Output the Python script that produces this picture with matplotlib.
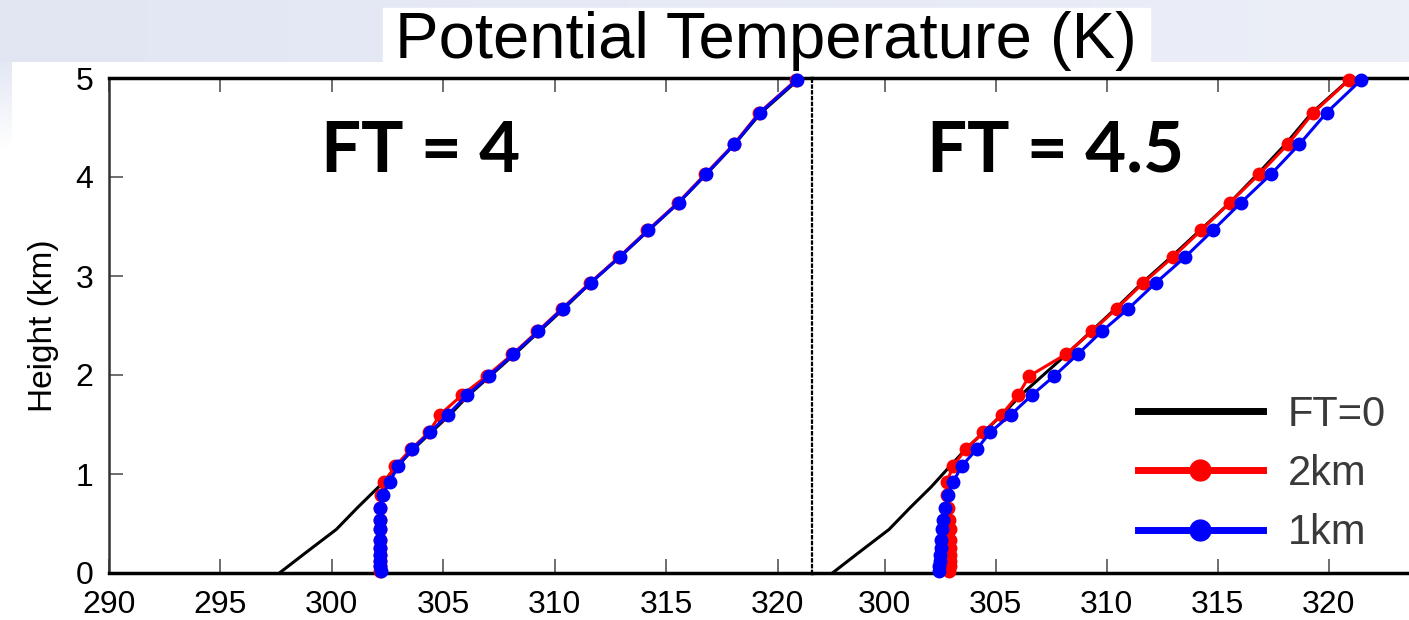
import numpy as np
import matplotlib.pyplot as plt
from matplotlib.lines import Line2D
from matplotlib.patches import Rectangle
from matplotlib.colors import LinearSegmentedColormap

plt.rcParams['font.family'] = ['Liberation Sans', 'DejaVu Sans']

# model levels (km) of the sensitivity runs
z = [0.02, 0.07, 0.12, 0.18, 0.25, 0.33, 0.44, 0.54, 0.66, 0.79, 0.92, 1.08, 1.25, 1.42,
     1.60, 1.80, 1.99, 2.21, 2.44, 2.67, 2.93, 3.19, 3.46, 3.74, 4.03, 4.33, 4.65, 4.98]

# control run FT=0
z_ctl = [0.0, 0.2, 0.44, 0.66, 0.87, 1.08, 1.25, 1.42, 1.60, 1.80, 1.99, 2.21, 2.44, 2.67,
         2.93, 3.19, 3.46, 3.74, 4.03, 4.33, 4.65, 4.98]
th_ctl = [297.65, 298.8, 300.2, 301.15, 302.1, 302.95, 303.65, 304.45, 305.3, 306.15, 307.1,
          308.2, 309.3, 310.4, 311.6, 312.9, 314.2, 315.55, 316.8, 318.05, 319.25, 320.9]

# FT = 4
th_2km_a = [302.18, 302.17, 302.17, 302.16, 302.16, 302.16, 302.16, 302.16, 302.17, 302.2,
            302.35, 302.85, 303.55, 304.35, 304.85, 305.85, 306.95, 308.1, 309.22, 310.32,
            311.57, 312.87, 314.15, 315.52, 316.75, 318.02, 319.17, 320.82]
th_1km_a = [302.19, 302.18, 302.17, 302.17, 302.16, 302.16, 302.16, 302.17, 302.18, 302.28,
            302.6, 302.97, 303.6, 304.4, 305.2, 306.08, 307.05, 308.14, 309.26, 310.35,
            311.6, 312.9, 314.18, 315.55, 316.78, 318.05, 319.2, 320.85]

# FT = 4.5
th_2km_b = [302.92, 302.93, 302.93, 302.93, 302.93, 302.93, 302.93, 302.92, 302.87, 302.8,
            302.8, 303.09, 303.65, 304.45, 305.27, 306.02, 306.52, 308.17, 309.33, 310.45,
            311.65, 312.98, 314.25, 315.55, 316.88, 318.16, 319.31, 320.92]
th_1km_b = [302.45, 302.46, 302.48, 302.5, 302.53, 302.56, 302.6, 302.64, 302.72, 302.87,
            303.09, 303.47, 304.15, 304.75, 305.69, 306.65, 307.64, 308.7, 309.78, 310.98,
            312.21, 313.53, 314.78, 316.05, 317.41, 318.68, 319.91, 321.46]

panels = [('FT = 4', 304.0, th_2km_a, th_1km_a), ('FT = 4.5', 307.7, th_2km_b, th_1km_b)]

fig = plt.figure(figsize=(14.09, 6.2), dpi=100)

# slide background: pale band on top, fading strip down the left edge
band = LinearSegmentedColormap.from_list('band', ['#e2e6f3', '#eceff8'])
bg = fig.add_axes([0, 1 - 62 / 620, 1, 62 / 620], zorder=-2)
bg.imshow(np.linspace(0, 1, 200)[None, :], aspect='auto', cmap=band, extent=(0, 1, 0, 1))
bg.axis('off')
fade = LinearSegmentedColormap.from_list('fade', ['white', '#e4e8f4'])
bg2 = fig.add_axes([0, 1 - 150 / 620, 12 / 1409, 88 / 620], zorder=-2)
bg2.imshow(np.linspace(0, 1, 50)[:, None], aspect='auto', cmap=fade, origin='lower',
           extent=(0, 1, 0, 1))
bg2.axis('off')

fig.patches.append(Rectangle((383 / 1409, 1 - 62 / 620), 767 / 1409, 54 / 620,
                             transform=fig.transFigure, color='white', zorder=1))
fig.text(766 / 1409, 1 - 58 / 620, 'Potential Temperature (K)', ha='center', va='baseline',
         fontsize=47, color='black', zorder=2)

ax1 = fig.add_axes([108.8 / 1409, 47 / 620, 703.2 / 1409, 495 / 620])
ax2 = fig.add_axes([812 / 1409, 47 / 620, 597 / 1409, 495 / 620])
ax1.set_xlim(290, 321.53)
ax2.set_xlim(296.73, 323.62)

for ax, (name, xname, th2, th1) in zip([ax1, ax2], panels):
    ax.plot(th_ctl, z_ctl, color='black', lw=2.2, zorder=3)
    ax.plot(th2, z, color='red', lw=2.2, marker='o', ms=9, zorder=4, clip_on=False)
    ax.plot(th1, z, color='blue', lw=2.2, marker='o', ms=9, zorder=5, clip_on=False)
    ax.set_ylim(0, 5)
    ax.set_xticks(range(290, 325, 5) if ax is ax1 else range(300, 325, 5))
    ax.tick_params(axis='x', direction='in', top=True, length=10, width=1.2, color='#555555',
                   labelsize=23, pad=12)
    ax.tick_params(axis='y', direction='in', length=10, width=1.2, color='#555555',
                   labelsize=23, pad=11)
    ax.spines['top'].set_linewidth(2.5)
    ax.spines['bottom'].set_linewidth(2.5)
    ax.spines['right'].set_visible(False)
    ax.text(xname, 4.26, name, ha='center', va='center', fontsize=51, fontweight='bold',
            family='Lato', zorder=6)

ax1.set_yticks(range(0, 6))
ax1.spines['left'].set_linewidth(1.8)
ax1.spines['left'].set_color('#333333')
ax1.set_ylabel('Height (km)', fontsize=24, labelpad=12)
ax2.set_yticks([])
ax2.spines['left'].set_linestyle((0, (1, 1.6)))
ax2.spines['left'].set_linewidth(1.6)

handles = [Line2D([], [], color='black', lw=5),
           Line2D([], [], color='red', lw=5, marker='o', ms=15),
           Line2D([], [], color='blue', lw=5, marker='o', ms=15)]
leg = ax2.legend(handles, ['FT=0', '2km', '1km'], loc='upper left', bbox_to_anchor=(0.546, 0.36),
                 frameon=False, fontsize=30, handlelength=3.0, handletextpad=0.6,
                 labelspacing=0.46, borderpad=0, borderaxespad=0)
for t in leg.get_texts():
    t.set_color('#3a3a3a')

fig.savefig('out.png', dpi=100)
